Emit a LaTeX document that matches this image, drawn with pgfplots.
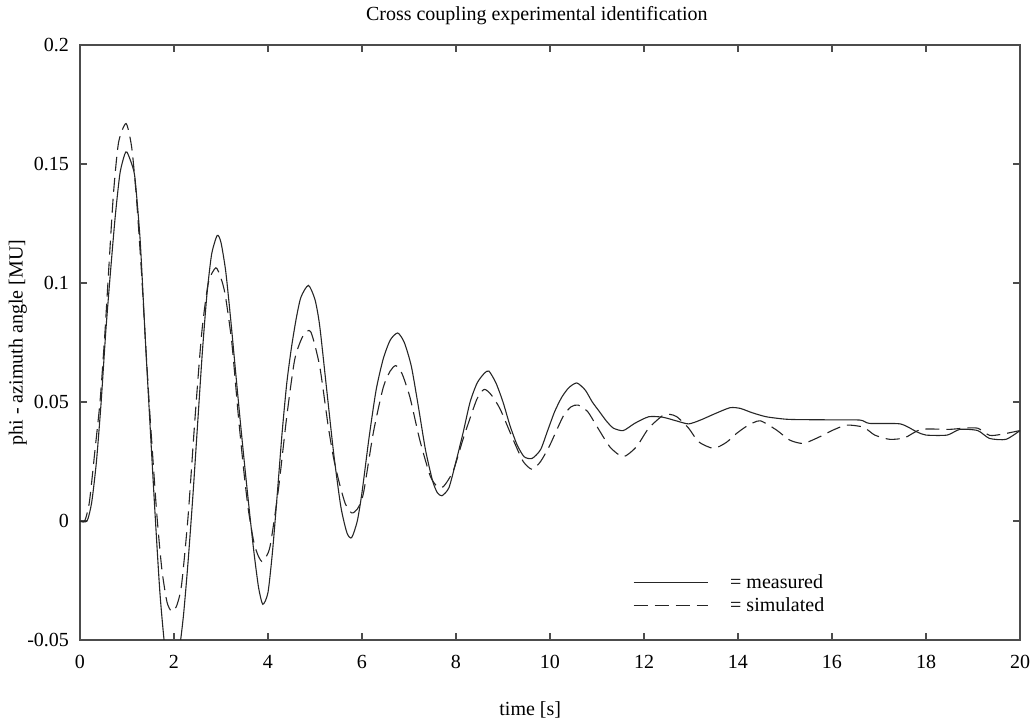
\documentclass[border=0pt]{standalone}
\usepackage{fontspec}
\setmainfont{Liberation Serif}
\usepackage{pgfplots}
\pgfplotsset{compat=1.18}
\begin{document}
\fontsize{10}{12}\selectfont
\begin{tikzpicture}
\useasboundingbox (-40pt,-44pt) rectangle (477.5pt,320pt);
\begin{axis}[
  at={(0,0)}, anchor=south west,
  scale only axis,
  width=470pt, height=297.5pt,
  xmin=0, xmax=20, ymin=-0.05, ymax=0.2,
  xtick={0,2,...,20},
  ytick={-0.05,0,0.05,0.1,0.15,0.2},
  yticklabels={-0.05,0,0.05,0.1,0.15,0.2},
  tick pos=both, tick align=inside,
  major tick length=3.5pt,
  axis line style={line width=0.8pt, black!70},
  every tick/.style={black!70, line width=0.6pt},
  /pgf/number format/assume math mode=true,
  xticklabel style={font=\fontsize{10}{12}\selectfont, yshift=-4pt},
  yticklabel style={font=\fontsize{10}{12}\selectfont, xshift=-2pt},
  title={Cross coupling experimental identification},
  title style={font=\fontsize{10}{12}\selectfont, at={(axis description cs:0.486,1.0286)}, anchor=center},
  xlabel={time [s]},
  xlabel style={font=\fontsize{10}{12}\selectfont, at={(axis description cs:0.479,-0.1176)}, anchor=center},
  ylabel={phi - azimuth angle [MU]},
  ylabel style={font=\fontsize{10}{12}\selectfont, at={(axis description cs:-0.066,0.5)}, anchor=center},
  clip=true,
  legend cell align=left,
  legend style={draw=none, fill=none, at={(axis description cs:0.588,0.077)}, anchor=west,
    font=\fontsize{10}{12}\selectfont, inner sep=0pt, row sep=-1pt, column sep=9pt},
  legend image code/.code={\draw[#1] (0pt,0pt) -- (37pt,0pt);},
]
\addplot[black!85, line width=0.55pt, smooth, tension=0.4] coordinates {
(0,0) (0.15,0) (0.25,0.008) (0.35,0.025) (0.45,0.05) (0.55,0.08) (0.65,0.105)
(0.75,0.128) (0.85,0.146) (0.95,0.154) (1.0,0.155) (1.1,0.150) (1.17,0.144)
(1.28,0.118) (1.38,0.08) (1.5,0.037) (1.6,0.002) (1.7,-0.03) (1.8,-0.052)
(1.9,-0.062) (2.0,-0.064) (2.1,-0.056) (2.2,-0.04) (2.3,-0.017) (2.4,0.01)
(2.5,0.04) (2.6,0.07) (2.7,0.095) (2.8,0.112) (2.92,0.12) (3.0,0.117)
(3.1,0.105) (3.2,0.086) (3.3,0.065) (3.4,0.044) (3.5,0.024) (3.6,0.005)
(3.7,-0.013) (3.8,-0.028) (3.89,-0.035) (4.0,-0.03) (4.1,-0.012) (4.2,0.012)
(4.3,0.037) (4.4,0.058) (4.5,0.073) (4.6,0.085) (4.7,0.094) (4.86,0.099)
(5.0,0.093) (5.1,0.082) (5.25,0.055) (5.4,0.028) (5.55,0.006) (5.68,-0.005)
(5.78,-0.007) (5.9,0.0) (6.0,0.012) (6.15,0.035) (6.3,0.055) (6.45,0.068)
(6.6,0.076) (6.76,0.079) (6.9,0.075) (7.05,0.065) (7.2,0.048) (7.35,0.03)
(7.5,0.017) (7.6,0.012) (7.7,0.0106) (7.85,0.014) (8.0,0.025) (8.15,0.037)
(8.3,0.05) (8.45,0.058) (8.6,0.062) (8.7,0.063) (8.85,0.058) (9.0,0.05)
(9.15,0.04) (9.3,0.032) (9.45,0.027) (9.62,0.0263) (9.8,0.03) (9.95,0.038)
(10.1,0.046) (10.25,0.052) (10.4,0.056) (10.57,0.058) (10.75,0.055) (10.9,0.05)
(11.05,0.046) (11.2,0.042) (11.35,0.039) (11.56,0.038) (11.8,0.041) (12.1,0.0438)
(12.4,0.0436) (12.7,0.042) (12.95,0.0408) (13.2,0.0424) (13.5,0.045) (13.83,0.0476)
(14.05,0.0473) (14.3,0.0455) (14.6,0.0438) (15.0,0.0428) (15.3,0.0426) (16.0,0.0425)
(16.6,0.0424) (16.8,0.041) (17.45,0.0408) (17.8,0.0375) (18.0,0.0361) (18.45,0.0361)
(18.72,0.0385) (19.1,0.038) (19.35,0.0347) (19.7,0.0343) (20,0.038)
};
\addlegendentry{= measured}
\addplot[black!85, line width=0.55pt, smooth, tension=0.4, dash pattern=on 7pt off 3.5pt] coordinates {
(0,0) (0.1,0.0) (0.2,0.008) (0.32,0.03) (0.43,0.051) (0.53,0.079) (0.6,0.102)
(0.71,0.137) (0.82,0.159) (0.98,0.167) (1.1,0.157) (1.2,0.136) (1.31,0.104)
(1.4,0.073) (1.49,0.044) (1.63,0.004) (1.74,-0.02) (1.85,-0.034) (1.95,-0.038)
(2.05,-0.036) (2.16,-0.027) (2.3,0.002) (2.45,0.044) (2.59,0.079) (2.73,0.100)
(2.89,0.1064) (3.0,0.102) (3.09,0.095) (3.23,0.075) (3.37,0.044) (3.48,0.022)
(3.58,0.005) (3.7,-0.009) (3.8,-0.015) (3.89,-0.017) (4.04,-0.011) (4.22,0.013)
(4.4,0.044) (4.57,0.068) (4.75,0.078) (4.91,0.0795) (5.1,0.065) (5.28,0.04)
(5.4,0.026) (5.53,0.015) (5.65,0.007) (5.78,0.0034) (5.9,0.005) (6.03,0.0116)
(6.24,0.037) (6.45,0.056) (6.6,0.063) (6.72,0.0653) (6.85,0.062) (7.02,0.052)
(7.23,0.034) (7.45,0.019) (7.6,0.0145) (7.73,0.0144) (7.94,0.021) (8.16,0.035)
(8.44,0.051) (8.6,0.0553) (8.75,0.053) (8.94,0.047) (9.22,0.034) (9.43,0.025)
(9.62,0.0217) (9.8,0.025) (10.0,0.032) (10.28,0.044) (10.45,0.048) (10.6,0.0487)
(10.8,0.046) (10.99,0.040) (11.28,0.031) (11.56,0.027) (11.84,0.0312) (12.1,0.039)
(12.41,0.0445) (12.55,0.0448) (12.7,0.0438) (12.95,0.039) (13.16,0.0333) (13.48,0.0305)
(13.75,0.033) (13.97,0.0368) (14.2,0.040) (14.47,0.0421) (14.82,0.0382) (15.1,0.034)
(15.39,0.0326) (15.74,0.0354) (16.0,0.038) (16.31,0.0403) (16.67,0.0394) (16.91,0.0361)
(17.23,0.0343) (17.55,0.035) (17.9,0.0385) (18.5,0.0385) (18.8,0.039) (19.1,0.039)
(19.35,0.036) (19.6,0.0364) (20,0.038)
};
\addlegendentry{= simulated}
\end{axis}
\end{tikzpicture}
\end{document}
